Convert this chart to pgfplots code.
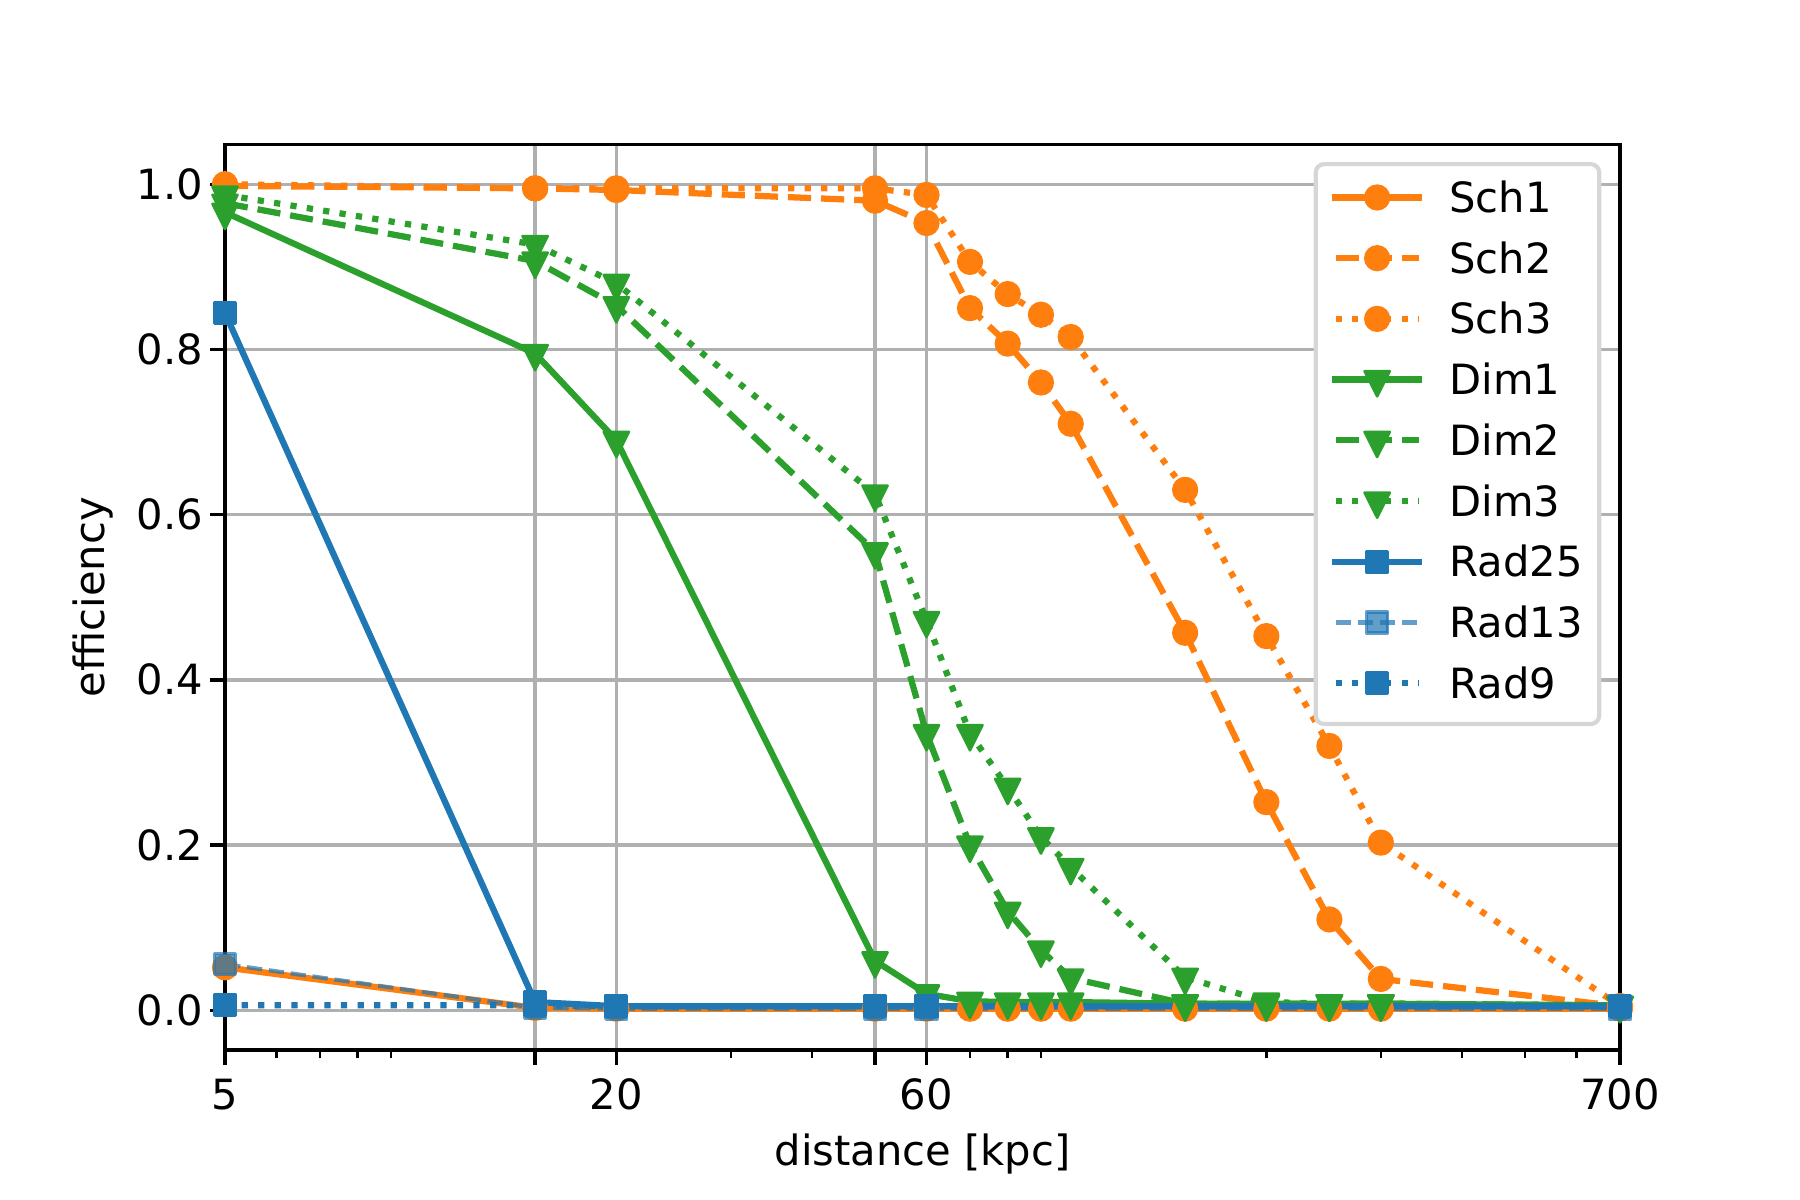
\documentclass[border=0pt]{standalone}
\usepackage{fontspec}
\setmainfont{DejaVu Sans}
\usepackage{pgfplots}
\usepackage{pgfplotstable}
\pgfplotsset{compat=1.18}
\definecolor{cB}{HTML}{1F77B4}
\definecolor{cO}{HTML}{FF7F0E}
\definecolor{cG}{HTML}{2CA02C}
\definecolor{gridc}{HTML}{B0B0B0}
\definecolor{legc}{HTML}{D6D6D6}

\pgfplotstableread{
x sch1 sch2 sch3 dim1 dim2 dim3
5 0.052 0.998 1.000 0.966 0.977 0.987
15 0.003 0.995 0.995 0.795 0.907 0.927
20 0.002 0.993 0.995 0.690 0.853 0.880
50 0.002 0.980 0.995 0.060 0.555 0.625
60 0.002 0.953 0.987 0.020 0.335 0.472
70 0.002 0.850 0.906 0.011 0.200 0.335
80 0.002 0.807 0.867 0.010 0.120 0.270
90 0.002 0.760 0.842 0.010 0.073 0.210
100 0.002 0.710 0.815 0.010 0.039 0.173
150 0.002 0.457 0.630 0.008 0.008 0.040
200 0.002 0.252 0.453 0.008 0.008 0.010
250 0.002 0.110 0.320 0.008 0.008 0.008
300 0.002 0.038 0.203 0.008 0.008 0.008
700 0.002 0.005 0.005 0.006 0.006 0.006
}\schdim

\pgfplotstableread{
x rad25 rad13 rad9
5 0.844 0.056 0.006
15 0.010 0.003 0.006
20 0.005 0.002 0.005
50 0.005 0.002 0.005
60 0.005 0.002 0.005
700 0.005 0.002 0.005
}\rad

\begin{document}
\begin{tikzpicture}
\useasboundingbox (-54pt,-36pt) rectangle (378pt,252pt);
\begin{axis}[
  at={(0,0)}, anchor=south west,
  scale only axis, width=334.8pt, height=217.3pt,
  xmode=log, log basis x=10,
  xmin=5, xmax=700, ymin=-0.048, ymax=1.048,
  xtick={5,15,20,50,60,700},
  xticklabels={5,,20,,60,700},
  minor xtick={6,7,8,9,30,40,70,80,90,200,300,400,500,600},
  ytick={0,0.2,0.4,0.6,0.8,1.0},
  yticklabels={0.0,0.2,0.4,0.6,0.8,1.0},
  grid=major,
  major grid style={draw=gridc, line width=0.8pt},
  tick align=outside, xtick pos=bottom, ytick pos=left,
  major tick length=3.5pt, minor tick length=2pt,
  tick style={black},
  major tick style={line width=0.8pt},
  minor tick style={line width=0.6pt},
  axis line style={line width=0.8pt},
  /pgf/number format/assume math mode=true,
  tick label style={font=\fontsize{10}{12}\selectfont, inner sep=0pt},
  xticklabel style={anchor=base, yshift=-10.8pt},
  yticklabel style={anchor=base east, xshift=-1.6pt, yshift=-3.6pt},
  label style={font=\fontsize{10}{12}\selectfont, inner sep=0pt},
  xlabel={distance [kpc]},
  ylabel={efficiency},
  xlabel style={at={(axis description cs:0.5,-0.1279)}, anchor=base},
  ylabel style={at={(axis description cs:-0.0866,0.5)}, anchor=base},
  legend image code/.code={
    \draw[sharp corners, mark repeat=2, mark phase=2]
      plot coordinates {(0pt,3.6pt) (10pt,3.6pt) (20pt,3.6pt)};
  },
  legend style={
    at={(1,1)}, anchor=north east, xshift=-4.5pt, yshift=-4.2pt,
    draw=legc, line width=1pt, rounded corners=2pt, fill=white,
    inner xsep=4pt, inner ysep=4pt,
    row sep=4.77pt,
    font=\fontsize{10}{12}\selectfont,
    nodes={inner sep=0pt, text height=7.6pt, text depth=2.2pt, anchor=base west},
    /tikz/every odd column/.append style={column sep=6.6pt},
  },
  every axis plot/.append style={line join=round},
  schO/.style={cO, line width=1.5pt, mark=*, mark size=2.75pt,
     mark options={solid, fill=cO, draw=cO, line width=0.8pt}},
  dimG/.style={cG, line width=1.5pt, mark=triangle*, mark size=3.5pt,
     mark options={solid, fill=cG, draw=cG, line width=0.6pt, rotate=180, yscale=1.15}},
  radB/.style={cB, line width=1.5pt, mark=square*, mark size=2.5pt,
     mark options={solid, fill=cB, draw=cB, line width=0.8pt}},
  sld/.style={line cap=rect},
  dsh/.style={dash pattern=on 5.55pt off 2.4pt},
  dtt/.style={dash pattern=on 1.5pt off 2.475pt},
]
\addplot[schO, sld] table[x=x, y=sch1] {\schdim};
\addlegendentry{Sch1}
\addplot[schO, dsh] table[x=x, y=sch2] {\schdim};
\addlegendentry{Sch2}
\addplot[schO, dtt] table[x=x, y=sch3] {\schdim};
\addlegendentry{Sch3}
\addplot[dimG, sld] table[x=x, y=dim1] {\schdim};
\addlegendentry{Dim1}
\addplot[dimG, dsh] table[x=x, y=dim2] {\schdim};
\addlegendentry{Dim2}
\addplot[dimG, dtt] table[x=x, y=dim3] {\schdim};
\addlegendentry{Dim3}
\addplot[radB, sld] table[x=x, y=rad25] {\rad};
\addlegendentry{Rad25}
\addplot[radB, line width=1pt, opacity=0.7, dash pattern=on 3.7pt off 1.6pt] table[x=x, y=rad13] {\rad};
\addlegendentry{Rad13}
\addplot[radB, dtt] table[x=x, y=rad9] {\rad};
\addlegendentry{Rad9}
\end{axis}
\end{tikzpicture}
\end{document}
